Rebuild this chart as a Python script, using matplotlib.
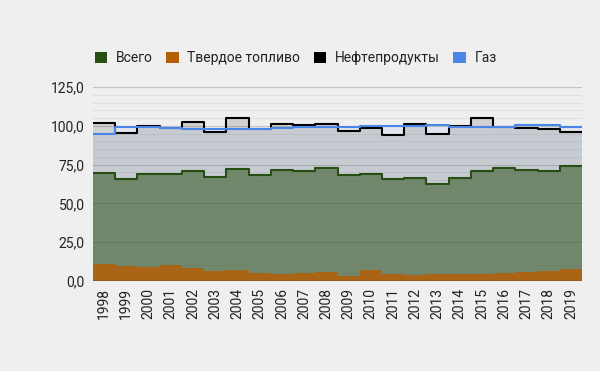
import numpy as np
import matplotlib
matplotlib.use('Agg')
import matplotlib.pyplot as plt
from matplotlib.patches import Patch
from matplotlib.ticker import FuncFormatter, MultipleLocator

plt.rcParams['font.family'] = ['Roboto', 'DejaVu Sans']

# Data
years = list(range(1998, 2020))
total = [69.8, 65.9, 69.2, 68.7, 71.1, 67.2, 72.2, 68.5, 71.3, 70.9, 72.8,
         68.3, 69.2, 65.5, 66.2, 62.7, 66.5, 71.1, 72.8, 71.7, 70.9, 74.3]
solid = [10.7, 9.7, 9.2, 10.1, 8.6, 6.4, 7.1, 5.3, 4.5, 5.3, 6.0,
         3.2, 6.9, 4.3, 3.7, 4.3, 4.3, 4.3, 5.3, 5.9, 6.4, 7.5]
oil = [102.0, 95.1, 100.1, 98.8, 102.2, 96.0, 104.8, 97.7, 100.9, 100.5, 101.0,
       96.6, 98.8, 93.9, 101.4, 94.7, 99.9, 105.2, 99.4, 98.4, 97.9, 95.8]
gas = [94.9, 99.5, 99.0, 98.5, 97.7, 97.7, 97.8, 98.0, 98.5, 99.0, 99.5,
       99.5, 100.0, 100.0, 100.0, 100.3, 99.5, 99.2, 99.5, 100.5, 100.8, 99.0]

labels = ['Всего', 'Твердое топливо', 'Нефтепродукты', 'Газ']
colors = ['#274e13', '#b45f06', '#000000', '#4a86e8']
bg = '#efefef'

fig = plt.figure(figsize=(6, 3.71), dpi=100, facecolor=bg)
ax = fig.add_axes([0.155, 0.2426, 0.815, 0.5229], facecolor=bg)

x = np.arange(len(years) + 1)


def step_area(vals, color, alpha, lw, z):
    y = list(vals) + [vals[-1]]
    ax.fill_between(x, 0, y, step='post', color=color, alpha=alpha, lw=0, zorder=z)
    if lw > 0:
        ax.step(x, y, where='post', color=color, lw=lw, zorder=z + 5)


step_area(oil, colors[2], 0.12, 1.5, 2)
step_area(gas, colors[3], 0.08, 1.5, 3)
step_area(total, colors[0], 0.53, 1.5, 4)
step_area(solid, colors[1], 0.85, 0, 5)

# gridlines
ax.yaxis.set_major_locator(MultipleLocator(25))
ax.yaxis.set_minor_locator(MultipleLocator(5))
ax.grid(which='minor', axis='y', color='#e0e0e0', lw=0.8, zorder=1)
ax.grid(which='major', axis='y', color='#c4c4c4', lw=0.8, zorder=1)
ax.axhline(0, color='#333333', lw=1, zorder=12)

ax.set_xlim(0, len(years))
ax.set_ylim(0, 125)
ax.set_xticks(np.arange(len(years)) + 0.5)
ax.set_xticklabels([str(y) for y in years], rotation=90, fontsize=10, color='#222222')
ax.yaxis.set_major_formatter(FuncFormatter(lambda v, p: f'{v:.1f}'.replace('.', ',')))
ax.tick_params(axis='both', which='both', length=0, labelsize=10, colors='#222222')
ax.tick_params(axis='x', pad=5)
ax.tick_params(axis='y', pad=6)
for s in ax.spines.values():
    s.set_visible(False)

handles = [Patch(facecolor=c, edgecolor='none') for c in colors]
fig.legend(handles, labels, loc='center left', bbox_to_anchor=(0.137, 0.843), ncol=4,
           frameon=False, fontsize=10, handlelength=0.9, handleheight=0.9,
           handletextpad=0.6, columnspacing=1.0, labelcolor='#222222')

fig.savefig('out.png', dpi=100, facecolor=bg)
